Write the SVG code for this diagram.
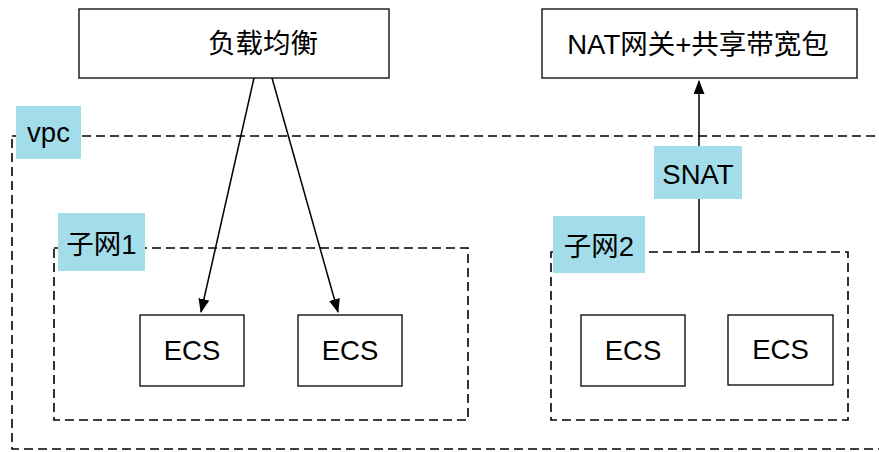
<svg xmlns="http://www.w3.org/2000/svg" width="879" height="452" viewBox="0 0 879 452">
<defs>
<style>
.box{fill:#fff;stroke:#000;stroke-width:1.3}
.dash{fill:none;stroke:#000;stroke-width:1.6;stroke-dasharray:9 5}
.lbl{fill:#a2dde9;stroke:none}
.t{font-family:"Liberation Sans","Noto Sans CJK SC",sans-serif;font-size:27.5px;fill:#000;text-anchor:middle}
.edge{fill:none;stroke:#000;stroke-width:1.5}
</style>
<marker id="arr" viewBox="0 0 14 11" refX="13" refY="5.5" markerWidth="14" markerHeight="11" markerUnits="userSpaceOnUse" orient="auto">
<path d="M0,0 L14,5.5 L0,11 z" fill="#000"/>
</marker>
</defs>
<rect width="879" height="452" fill="#fff"/>
<g id="vpc">
<rect class="dash" x="12" y="136" width="890" height="313"/>
<rect class="lbl" x="16" y="106" width="65" height="53"/>
<text class="t" x="48.5" y="142">vpc</text>
</g>
<g id="subnet1">
<rect class="dash" x="54" y="248" width="414" height="172"/>
</g>
<g id="subnet2">
<rect class="dash" x="551" y="252" width="297" height="168"/>
</g>
<g id="connectors">
<line class="edge" x1="254" y1="78" x2="201" y2="312" marker-end="url(#arr)"/>
<line class="edge" x1="272" y1="78" x2="338" y2="312" marker-end="url(#arr)"/>
<line class="edge" x1="699" y1="252" x2="699" y2="81" marker-end="url(#arr)"/>
</g>
<g id="subnet1-label">
<rect class="lbl" x="58" y="213" width="87" height="58"/>
<text class="t" x="101.5" y="254">子网1</text>
</g>
<g id="subnet2-label">
<rect class="lbl" x="553" y="216" width="92" height="57"/>
<text class="t" x="599" y="256">子网2</text>
</g>
<g id="snat">
<rect class="lbl" x="654" y="146" width="88" height="53"/>
<text class="t" x="698" y="184">SNAT</text>
</g>
<g id="lb">
<rect class="box" x="79" y="9" width="310" height="69"/>
<text class="t" x="263" y="53">负载均衡</text>
</g>
<g id="nat">
<rect class="box" x="542" y="9" width="315" height="69"/>
<text class="t" x="698" y="54">NAT网关+共享带宽包</text>
</g>
<g id="ecs1">
<rect class="box" x="140" y="315" width="104" height="71"/>
<text class="t" x="192" y="360">ECS</text>
</g>
<g id="ecs2">
<rect class="box" x="298" y="315" width="104" height="71"/>
<text class="t" x="350" y="360">ECS</text>
</g>
<g id="ecs3">
<rect class="box" x="581" y="315" width="104" height="71"/>
<text class="t" x="633" y="360">ECS</text>
</g>
<g id="ecs4">
<rect class="box" x="728" y="315" width="105" height="70"/>
<text class="t" x="780.5" y="359">ECS</text>
</g>
</svg>
